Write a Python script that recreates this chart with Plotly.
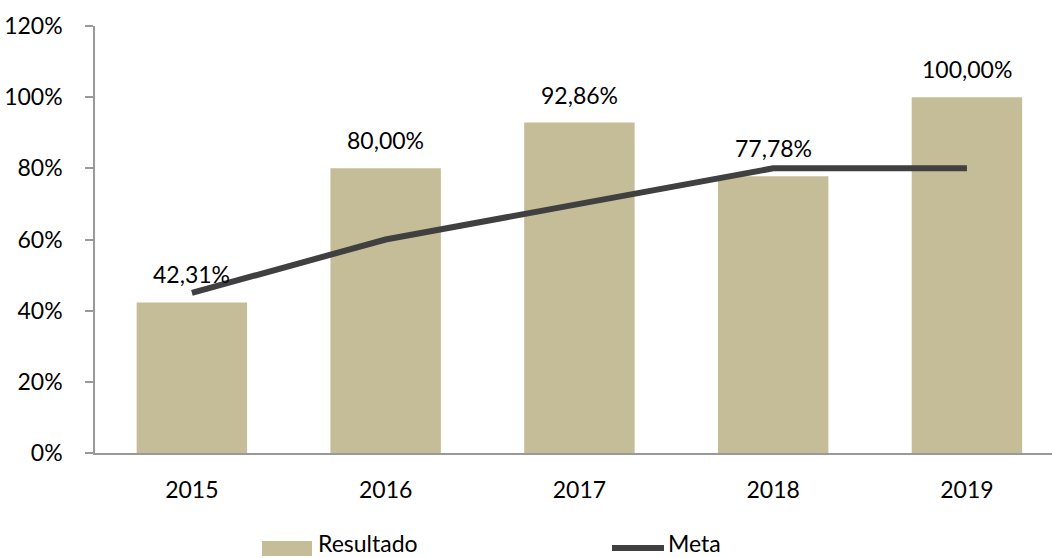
import plotly.graph_objects as go

years = ["2015", "2016", "2017", "2018", "2019"]
resultado = [42.31, 80.00, 92.86, 77.78, 100.00]
meta = [45, 60, 70, 80, 80]
y_ticks = [0, 20, 40, 60, 80, 100, 120]

BAR_COLOR = "#C4BD97"
LINE_COLOR = "#404040"
FONT = "Lato, Open Sans, sans-serif"
FS = 23

xpos = list(range(len(years)))

fig = go.Figure()
fig.add_trace(go.Bar(x=xpos, y=resultado, name="Resultado",
                     marker=dict(color=BAR_COLOR, line=dict(width=0)),
                     width=0.57, showlegend=False))
fig.add_trace(go.Scatter(x=xpos, y=meta, name="Meta", mode="lines",
                         line=dict(color=LINE_COLOR, width=6),
                         showlegend=False))

for i, v in zip(xpos, resultado):
    fig.add_annotation(x=i, y=v, xref="x", yref="y",
                       text=f"{v:.2f}".replace(".", ",") + "%",
                       showarrow=False, yshift=28, yanchor="middle",
                       font=dict(family=FONT, size=FS, color="#000000"))

# manual legend
def px_x(p):
    return (p - 95) / 957

def px_y(p):
    return -(p - 453) / 427

fig.add_shape(type="rect", xref="paper", yref="paper",
              x0=px_x(262), x1=px_x(312), y0=px_y(556), y1=px_y(541),
              fillcolor=BAR_COLOR, line=dict(width=0))
fig.add_annotation(xref="paper", yref="paper", x=px_x(316), y=px_y(543),
                   text="Resultado", showarrow=False,
                   xanchor="left", yanchor="middle",
                   font=dict(family=FONT, size=FS, color="#000000"))
fig.add_shape(type="line", xref="paper", yref="paper",
              x0=px_x(612), x1=px_x(664), y0=px_y(548), y1=px_y(548),
              line=dict(color=LINE_COLOR, width=6))
fig.add_annotation(xref="paper", yref="paper", x=px_x(666), y=px_y(543),
                   text="Meta", showarrow=False,
                   xanchor="left", yanchor="middle",
                   font=dict(family=FONT, size=FS, color="#000000"))

fig.update_layout(
    width=1052, height=558,
    margin=dict(l=95, r=0, t=26, b=105),
    paper_bgcolor="white", plot_bgcolor="white",
    font=dict(family=FONT, size=FS, color="#000000"),
)
fig.update_xaxes(range=[-0.5, 4.439], tickvals=xpos, ticktext=years,
                 showline=True, linecolor="#999999", linewidth=1.5,
                 ticks="", showgrid=False, zeroline=False, ticklabelstandoff=16,
                 tickfont=dict(family=FONT, size=FS))
fig.update_yaxes(range=[0, 120], tickvals=y_ticks,
                 ticktext=[f"{t}%" for t in y_ticks],
                 showline=True, linecolor="#999999", linewidth=1.5,
                 ticks="outside", ticklen=8, tickcolor="#999999", tickwidth=1.5,
                 showgrid=False, zeroline=False, ticklabelstandoff=18,
                 tickfont=dict(family=FONT, size=FS))

fig.write_html("out.html", config={"displayModeBar": False},
               post_script="document.body.style.margin='0';document.body.style.overflow='hidden';")
